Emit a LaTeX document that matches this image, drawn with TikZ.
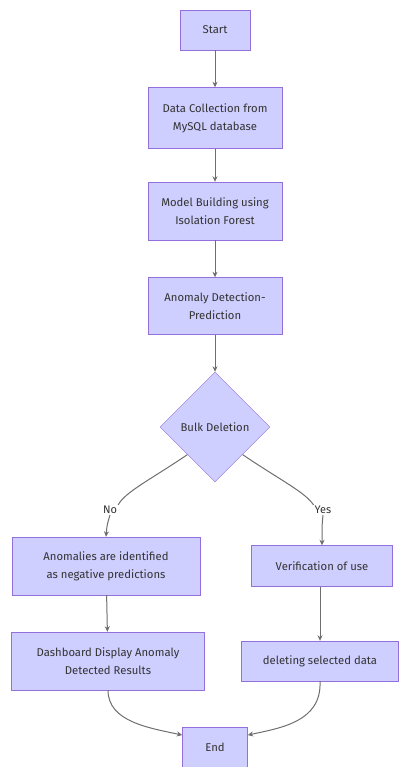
\documentclass[tikz,border=0pt]{standalone}
\usepackage{fontspec}
\setmainfont{Fira Sans}
\usetikzlibrary{shapes.geometric,arrows.meta}
\definecolor{boxfill}{RGB}{206,206,255}
\definecolor{boxline}{HTML}{9370DB}
\definecolor{linkcol}{HTML}{6E6E6E}
\definecolor{txtcol}{HTML}{333333}
\begin{document}
\begin{tikzpicture}[x=1pt,y=-1pt,
    stepbox/.style={draw=boxline, fill=boxfill, rectangle, text=txtcol, align=center,
        font=\fontsize{11.3}{18}\selectfont, inner sep=0pt},
    decbox/.style={draw=boxline, fill=boxfill, diamond, aspect=1, text=txtcol,
        font=\fontsize{11.3}{18}\selectfont, minimum width=110pt, minimum height=110pt, inner sep=0pt},
    lbl/.style={fill=white, text=txtcol, font=\fontsize{11}{13}\selectfont, inner sep=1pt},
    link/.style={draw=linkcol, line width=1pt},
    flow/.style={link, -{Stealth[length=5.5pt,width=5pt,fill=black!75]}}]

        \useasboundingbox (0,0) rectangle (400,767);

        \node[stepbox, minimum width=70pt, minimum height=40pt] (start) at (215,30) {Start};
        \node[stepbox, minimum width=134pt, minimum height=61pt] (collect) at (215,118)
            {Data Collection from\\MySQL database};
        \path[flow] (start) -- (collect);
        \node[stepbox, minimum width=134pt, minimum height=58pt] (model) at (215,211)
            {Model Building using\\Isolation Forest};
        \path[flow] (collect) -- (model);
        \node[stepbox, minimum width=134pt, minimum height=57pt] (detect) at (215,306)
            {Anomaly Detection-\\Prediction};
        \path[flow] (model) -- (detect);
        \node[decbox] (bulk) at (215,427) {Bulk Deletion};
        \path[flow] (detect) -- (bulk);

        % no branch
        \node[lbl] (no) at (110,510) {No};
        \path[link] (bulk.south west) .. controls (150,480) and (125,492) .. (no.north east);
        \node[stepbox, minimum width=188pt, minimum height=58pt] (anom) at (106,566)
            {Anomalies are identified\\as negative predictions};
        \path[flow] (no.south) .. controls (107,525) .. (anom.north);
        \node[stepbox, minimum width=193pt, minimum height=58pt] (dash) at (108,661)
            {Dashboard Display Anomaly\\Detected Results};
        \path[flow] (anom) -- (dash);

        % yes branch
        \node[lbl] (yes) at (323,510) {Yes};
        \path[link] (bulk.south east) .. controls (280,480) and (305,492) .. (yes.north west);
        \node[stepbox, minimum width=141pt, minimum height=41pt] (verify) at (322,566)
            {Verification of use};
        \path[flow] (yes.south) .. controls (322,525) .. (verify.north);
        \node[stepbox, minimum width=157pt, minimum height=40pt] (delete) at (320,661)
            {deleting selected data};
        \path[flow] (verify.south -| delete) -- (delete);

        \node[stepbox, minimum width=65pt, minimum height=40pt] (end) at (215,747) {End};
        \path[flow] (dash.south) .. controls (108,722) and (150,728) .. (end.160);
        \path[flow] (delete.south) .. controls (322,722) and (280,728) .. (end.20);
    \end{tikzpicture}
\end{document}
